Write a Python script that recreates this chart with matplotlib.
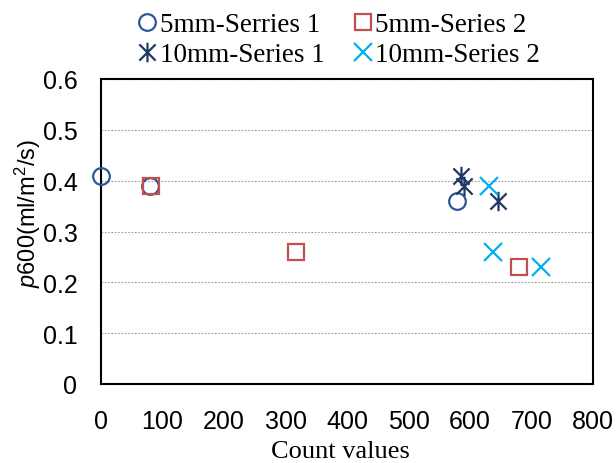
import numpy as np
import matplotlib.pyplot as plt
from matplotlib.path import Path

plt.rcParams['mathtext.fontset'] = 'custom'
plt.rcParams['mathtext.rm'] = 'Liberation Sans'
plt.rcParams['mathtext.it'] = 'Liberation Sans:italic'

# data
s1_5_x = [0, 79, 579]
s1_5_y = [0.41, 0.39, 0.36]
s2_5_x = [82, 317, 679]
s2_5_y = [0.39, 0.26, 0.23]
s1_10_x = [585, 591, 646]
s1_10_y = [0.41, 0.39, 0.36]
s2_10_x = [631, 638, 715]
s2_10_y = [0.39, 0.26, 0.23]

xticks = [0, 100, 200, 300, 400, 500, 600, 700, 800]
yticks = [0, 0.1, 0.2, 0.3, 0.4, 0.5, 0.6]

# asterisk marker: X plus vertical bar
star = Path([(-1, -1), (1, 1), (-1, 1), (1, -1), (0, -1.2), (0, 1.2)],
            [Path.MOVETO, Path.LINETO, Path.MOVETO, Path.LINETO, Path.MOVETO, Path.LINETO])

fig = plt.figure(figsize=(6.16, 4.64), dpi=100)
ax = fig.add_axes([101 / 616, 1 - 385 / 464, 492 / 616, 305 / 464])

c_blue = '#2F5597'
c_red = '#C0504D'
c_navy = '#1F3864'
c_cyan = '#00B0F0'

h1, = ax.plot(s1_5_x, s1_5_y, 'o', ms=12, mfc='none', mec=c_blue, mew=1.6, ls='none',
              label='5mm-Serries 1', clip_on=False, zorder=3)
h2, = ax.plot(s2_5_x, s2_5_y, 's', ms=12, mfc='none', mec=c_red, mew=1.6, ls='none',
              label='5mm-Series 2', clip_on=False, zorder=3)
h3, = ax.plot(s1_10_x, s1_10_y, marker=star, ms=14, color=c_navy, mew=1.6, ls='none',
              label='10mm-Series 1', clip_on=False, zorder=3)
h4, = ax.plot(s2_10_x, s2_10_y, 'x', ms=13, color=c_cyan, mew=1.6, ls='none',
              label='10mm-Series 2', clip_on=False, zorder=3)

ax.set_xlim(0, 800)
ax.set_ylim(0, 0.6)
ax.set_xticks(xticks)
ax.set_yticks(yticks)
ax.set_xticklabels([str(t) for t in xticks], fontfamily='Liberation Sans', fontsize=18)
ax.set_yticklabels(['0', '0.1', '0.2', '0.3', '0.4', '0.5', '0.6'],
                   fontfamily='Liberation Sans', fontsize=18)
ax.tick_params(axis='y', length=0, pad=17)
ax.tick_params(axis='x', length=0, pad=18)
ax.yaxis.grid(True, ls=(0, (1.5, 1.5)), color='#999999', lw=0.8)
for sp in ax.spines.values():
    sp.set_linewidth(1.5)
    sp.set_color('black')

ax.set_xlabel('Count values', fontfamily='Liberation Serif', fontsize=19)
ax.xaxis.set_label_coords(340 / 616, 1 - 452 / 464, transform=fig.transFigure)
ax.xaxis.label.set_va('center')
ax.set_ylabel(r'$p$600(ml/m$^2$/s)', fontfamily='Liberation Sans', fontsize=17)
ax.yaxis.set_label_coords(28 / 616, 1 - 213 / 464, transform=fig.transFigure)
ax.yaxis.label.set_va('center')

fig.legend(handles=[h1, h3, h2, h4], loc='upper left', bbox_to_anchor=(0.224, 0.972),
           bbox_transform=fig.transFigure, ncol=2, frameon=False,
           prop={'family': 'Liberation Serif', 'size': 19.5}, handletextpad=0.1,
           handlelength=0.7, columnspacing=1.07, labelspacing=0.2,
           borderaxespad=0, borderpad=0)

plt.savefig('out.png', dpi=100)
